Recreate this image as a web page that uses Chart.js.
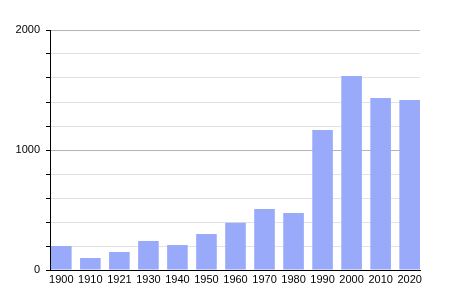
<!DOCTYPE html>
<html>
<head>
<meta charset="utf-8">
<script src="https://cdn.jsdelivr.net/npm/chart.js@4.4.0/dist/chart.umd.min.js"></script>
<style>
  html, body { margin: 0; padding: 0; background: #fff; }
  #wrap { width: 450px; height: 300px; }
</style>
</head>
<body>
<div id="wrap"><canvas id="c" width="450" height="300"></canvas></div>
<script>
// population by census year
const years = ['1900', '1910', '1921', '1930', '1940', '1950', '1960', '1970', '1980', '1990', '2000', '2010', '2020'];
const population = [200, 100, 150, 242, 208, 300, 394, 508, 475, 1167, 1617, 1433, 1417];
const yLabels = [0, 1000, 2000];

Chart.defaults.font.family = '"Liberation Sans", Arial, sans-serif';
Chart.defaults.font.size = 11;
Chart.defaults.color = '#000';

// bars sit flush against the y axis, so x is a linear index scale
const points = population.map((v, i) => ({ x: i, y: v }));

new Chart(document.getElementById('c'), {
    type: 'bar',
    data: {
        datasets: [{
            data: points,
            backgroundColor: '#99aafb',
            borderWidth: 0,
            categoryPercentage: 1,
            barPercentage: 0.71
        }]
    },
    options: {
        responsive: false,
        animation: false,
        layout: { padding: { left: 0, right: 30, top: 30, bottom: 0 } },
        plugins: { legend: { display: false }, tooltip: { enabled: false } },
        scales: {
            x: {
                type: 'linear',
                min: -0.39,
                max: years.length - 1 + 0.356,
                offset: false,
                grid: { display: false, drawTicks: false },
                border: { color: '#000', width: 1 },
                ticks: {
                    stepSize: 1,
                    includeBounds: false,
                    padding: 3,
                    maxRotation: 0,
                    autoSkip: false,
                    callback: (v) => Number.isInteger(v) ? years[v] : ''
                },
                afterFit: (axis) => { axis.height = 30; }
            },
            y: {
                min: 0,
                max: 2000,
                border: { color: '#000', width: 1 },
                grid: {
                    color: (ctx) => yLabels.includes(ctx.tick.value) ? '#b4b4b4' : '#e2e2e2',
                    tickColor: '#000',
                    tickLength: 4
                },
                ticks: {
                    stepSize: 200,
                    padding: 6,
                    callback: (v) => yLabels.includes(v) ? String(v) : ''
                },
                afterFit: (axis) => { axis.width = 50; }
            }
        }
    }
});
</script>
</body>
</html>
